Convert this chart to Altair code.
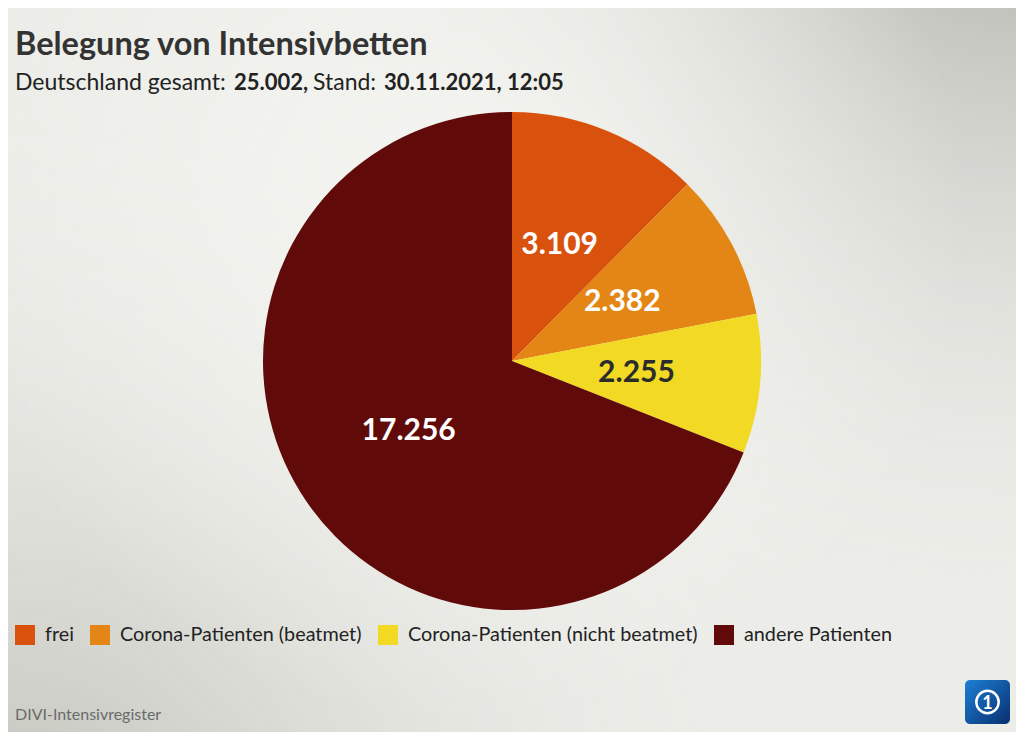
import altair as alt
import pandas as pd

categories = ["frei", "Corona-Patienten (beatmet)", "Corona-Patienten (nicht beatmet)", "andere Patienten"]
values = [3109, 2382, 2255, 17256]
colors = ["#D9520D", "#E38615", "#F2DA24", "#610A0A"]
label_colors = ["#ffffff", "#ffffff", "#2b2b2b", "#ffffff"]

title_text = "Belegung von Intensivbetten"
sub_parts = ["Deutschland gesamt:", "25.002,", "Stand:", "30.11.2021, 12:05"]
source_text = "DIVI-Intensivregister"

df = pd.DataFrame({
    "kategorie": categories,
    "wert": values,
    "ord": list(range(len(values))),
    "label": [f"{v:,}".replace(",", ".") for v in values],
    "lc": label_colors,
})
one = pd.DataFrame({"a": [0]})
FONT = "Lato"

base = alt.Chart(one).mark_rect(color="#ecece8").encode(
    x=alt.value(0), x2=alt.value(1008), y=alt.value(0), y2=alt.value(724))

def corner(cx, cy, col, r=0.75):
    return alt.Chart(one).mark_rect(
        color=alt.Gradient(gradient="radial",
                           stops=[alt.GradientStop(offset=0, color=col),
                                  alt.GradientStop(offset=1, color="rgba(236,236,232,0)")],
                           x1=cx, y1=cy, r1=0, x2=cx, y2=cy, r2=r)
    ).encode(x=alt.value(0), x2=alt.value(1008), y=alt.value(0), y2=alt.value(724))

glow = alt.Chart(one).mark_rect(
    color=alt.Gradient(gradient="radial",
                       stops=[alt.GradientStop(offset=0, color="rgba(246,246,242,0.9)"),
                              alt.GradientStop(offset=1, color="rgba(246,246,242,0)")],
                       x1=0.45, y1=0.35, r1=0, x2=0.45, y2=0.35, r2=0.5)
).encode(x=alt.value(0), x2=alt.value(1008), y=alt.value(0), y2=alt.value(724))

pie = alt.Chart(df).mark_arc(outerRadius=249).encode(
    theta=alt.Theta("wert:Q", stack=True),
    order=alt.Order("ord:Q"),
    color=alt.Color("kategorie:N",
                    scale=alt.Scale(domain=categories, range=colors),
                    sort=categories,
                    legend=alt.Legend(orient="none", legendX=7, legendY=617,
                                      direction="horizontal", columns=4, title=None,
                                      symbolType="square", symbolSize=400,
                                      symbolStrokeWidth=0, symbolOpacity=1,
                                      labelFont=FONT, labelFontSize=19.8, labelColor="#222222",
                                      labelOffset=10, columnPadding=16,
                                      labelLimit=400)),
)

labels = alt.Chart(df).mark_text(radius=125, font=FONT, fontSize=30, fontWeight="bold").encode(
    theta=alt.Theta("wert:Q", stack=True),
    order=alt.Order("ord:Q"),
    text="label:N",
    color=alt.Color("lc:N", scale=None),
)

def txt(s, x, y, size, weight="normal", color="#222222", align="left"):
    return alt.Chart(one).mark_text(
        text=s, font=FONT, fontSize=size, fontWeight=weight, color=color,
        align=align, baseline="alphabetic").encode(x=alt.value(x), y=alt.value(y))

title = txt(title_text, 7, 47, 32.5, "bold", "#333333")
sub = (txt(sub_parts[0], 7, 82, 23) + txt(sub_parts[1], 226, 82, 22, "bold")
       + txt(sub_parts[2], 305, 82, 23) + txt(sub_parts[3], 376, 82, 22, "bold"))
source = txt(source_text, 7, 712, 16, color="#6b6b6b")

logo_bg = alt.Chart(one).mark_rect(
    cornerRadius=5,
    color=alt.Gradient(gradient="linear",
                       stops=[alt.GradientStop(offset=0, color="#1d7fd6"),
                              alt.GradientStop(offset=1, color="#08306e")],
                       x1=0, y1=0, x2=1, y2=1)
).encode(x=alt.value(957), x2=alt.value(1002), y=alt.value(672), y2=alt.value(716))
logo_ring = alt.Chart(one).mark_point(shape="circle", size=500, strokeWidth=2.5,
                                      color="#ffffff", filled=False, opacity=1).encode(
    x=alt.value(979.5), y=alt.value(694))
logo_one = txt("1", 979.5, 701, 18, "bold", "#ffffff", align="center")

chart = alt.layer(
    base, corner(1, 0, "rgba(172,175,166,1)"), corner(0, 1, "rgba(186,188,178,1)"), glow,
    pie, labels, title, sub, source, logo_bg, logo_ring, logo_one
).properties(
    width=1008, height=706, padding=0
).configure_view(stroke=None).configure(background="#ecece8")

chart.save("out.html", embed_options={"renderer": "svg", "actions": False})
